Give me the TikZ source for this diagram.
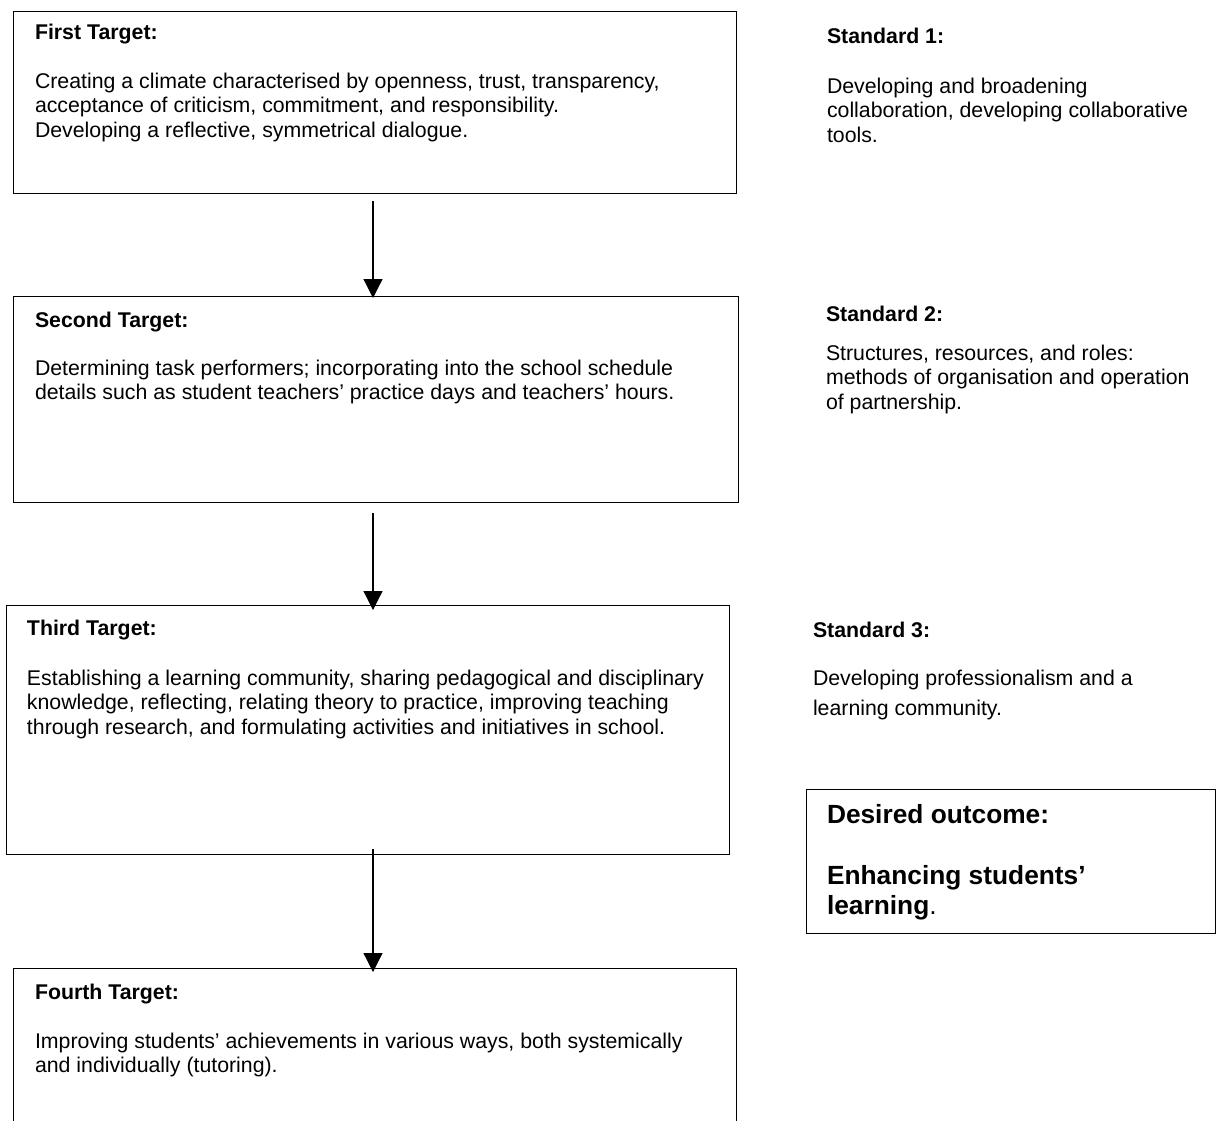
\documentclass[tikz,border=0pt]{standalone}
\usepackage{fontspec}
\setmainfont{Liberation Sans}
\usetikzlibrary{arrows.meta}
\newcommand{\tgtfont}{\fontsize{21.3}{24.5}\selectfont}
\newcommand{\stdfont}{\fontsize{21.3}{24.5}\selectfont}
\newcommand{\stdfontb}{\fontsize{21.3}{30}\selectfont}
\newcommand{\outfont}{\fontsize{26.3}{30}\selectfont}
\tikzset{
  tbox/.style={draw, line width=1.3pt, rectangle, inner sep=0pt, anchor=north west},
  txt/.style={anchor=base west, inner sep=0pt, outer sep=0pt},
  arr/.style={-{Triangle[length=19pt,width=19pt]}, line width=1.2pt}
}
\begin{document}
\begin{tikzpicture}[x=1pt,y=-1pt]
\useasboundingbox (0,0) rectangle (1217,1120);
\clip (0,0) rectangle (1217,1120);
\fill[white] (0,0) rectangle (1217,1120);

% Target boxes
\node[tbox, minimum width=723pt, minimum height=182pt] (b1) at (13,11) {};
\node[tbox, minimum width=725pt, minimum height=206pt] (b2) at (13,296) {};
\node[tbox, minimum width=723pt, minimum height=249pt] (b3) at (6,605) {};
\node[tbox, minimum width=723pt, minimum height=175pt] (b4) at (13,968) {};

% Target texts
\node[txt, font=\tgtfont] (t1) at (35,39) {\parbox[t]{690pt}{\textbf{First Target:}\\[24.5pt]
Creating a climate characterised by openness, trust, transparency,\\
acceptance of criticism, commitment, and responsibility.\\
Developing a reflective, symmetrical dialogue.}};

\node[txt, font=\tgtfont] (t2) at (35,327) {\parbox[t]{690pt}{\textbf{Second Target:}\\[23.5pt]
Determining task performers; incorporating into the school schedule\\
details such as student teachers’ practice days and teachers’ hours.}};

\node[txt, font=\tgtfont] (t3) at (27,635) {\parbox[t]{700pt}{\textbf{Third Target:}\\[25.5pt]
Establishing a learning community, sharing pedagogical and disciplinary\\
knowledge, reflecting, relating theory to practice, improving teaching\\
through research, and formulating activities and initiatives in school.}};

\node[txt, font=\tgtfont] (t4) at (35,999) {\parbox[t]{690pt}{\textbf{Fourth Target:}\\[24.5pt]
Improving students’ achievements in various ways, both systemically\\
and individually (tutoring).}};

% Standards
\node[txt, font=\stdfont] (s1) at (827,43) {\parbox[t]{380pt}{\textbf{Standard 1:}\\[25.5pt]
Developing and broadening\\
collaboration, developing collaborative\\
tools.}};

\node[txt, font=\stdfont] (s2) at (826,321) {\parbox[t]{380pt}{\textbf{Standard 2:}\\[14.5pt]
Structures, resources, and roles:\\
methods of organisation and operation\\
of partnership.}};

\node[txt, font=\stdfontb] (s3) at (813,637) {\parbox[t]{390pt}{\textbf{Standard 3:}\\[18pt]
Developing professionalism and a\\
learning community.}};

% Desired outcome
\node[tbox, minimum width=409pt, minimum height=144pt] (ob) at (806,789) {};
\node[txt, font=\outfont] (ot) at (827,823) {\parbox[t]{380pt}{\textbf{Desired outcome:}\\[31pt]
\textbf{Enhancing students’}\\
\textbf{learning}.}};

% Arrows
\coordinate (ax) at (373,0);
\draw[arr] ([yshift=-7pt]b1.south -| ax) -- ([yshift=-2pt]b2.north -| ax);
\draw[arr] ([yshift=-10pt]b2.south -| ax) -- ([yshift=-5pt]b3.north -| ax);
\draw[arr] ([yshift=6pt]b3.south -| ax) -- ([yshift=-4pt]b4.north -| ax);
\end{tikzpicture}
\end{document}
